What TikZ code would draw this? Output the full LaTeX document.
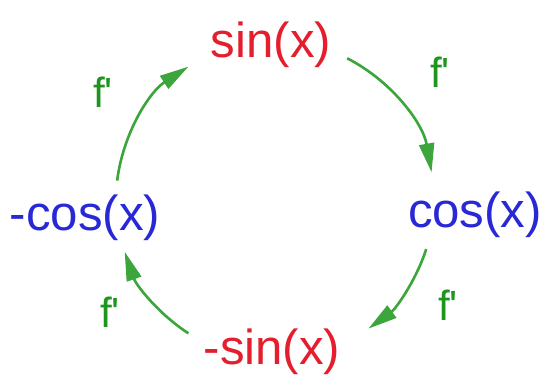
\documentclass[tikz,border=0pt]{standalone}
\usepackage{fontspec}
\setmainfont{Liberation Sans}
\usetikzlibrary{arrows.meta}
\definecolor{fred}{RGB}{228,30,45}
\definecolor{fblue}{RGB}{40,40,215}
\definecolor{fgreen}{RGB}{30,150,30}
\definecolor{agreen}{RGB}{60,165,60}

\begin{document}
\begin{tikzpicture}[>={Triangle[length=0.29cm, width=0.15cm]},
      fn/.style={font=\fontsize{14}{17}\selectfont, inner sep=1pt},
      dlbl/.style={font=\fontsize{12}{14}\selectfont, text=fgreen},
      arr/.style={->, line width=0.75pt, draw=agreen}]

    \useasboundingbox (0,0) rectangle (5.49,3.85);

    % ============================
    % FUNCTIONS
    % ============================
    \node[fn, text=fred]  (sin)  at (2.71, 3.40) {sin(x)};
    \node[fn, text=fblue] (cos)  at (4.75, 1.70) {cos(x)};
    \node[fn, text=fred]  (msin) at (2.72, 0.33) {-sin(x)};
    \node[fn, text=fblue] (mcos) at (0.85, 1.67) {-cos(x)};

    % ============================
    % DERIVATIVE CYCLE (arcs round a common centre)
    % ============================
    \coordinate (ctr) at (2.75, 1.85);
    \foreach \nm/\sa/\ea in {a/63/10, b/-18/-54, c/237/199, d/173/123} {
      \coordinate (\nm) at ([shift={(\sa:1.59)}]ctr);
      \draw[arr] (\nm) arc[start angle=\sa, end angle=\ea, radius=1.59];
    }

    % labels
    \node[dlbl] (fa) at (4.40, 3.13) {f\textquotesingle};
    \node[dlbl] (fb) at (4.48, 0.80) {f\textquotesingle};
    \node[dlbl] (fc) at (1.10, 0.73) {f\textquotesingle};
    \node[dlbl] (fd) at (1.03, 2.93) {f\textquotesingle};

\end{tikzpicture}
\end{document}
